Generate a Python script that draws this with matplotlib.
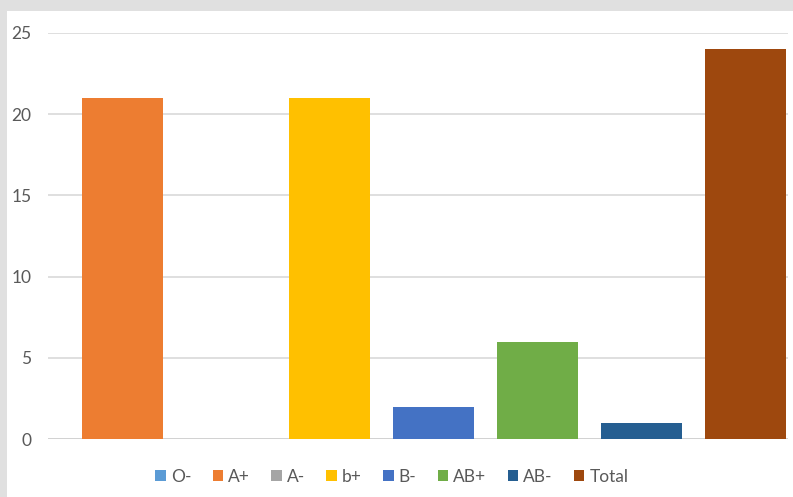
import matplotlib.pyplot as plt
from matplotlib.patches import Patch, Rectangle

groups = ['O-', 'A+', 'A-', 'b+', 'B-', 'AB+', 'AB-', 'Total']
counts = [0, 21, 0, 21, 2, 6, 1, 24]
colors = ['#5B9BD5', '#ED7D31', '#A5A5A5', '#FFC000', '#4472C4', '#70AD47', '#255E91', '#9E480E']
yticks = [0, 5, 10, 15, 20, 25]

plt.rcParams['font.family'] = ['Lato', 'DejaVu Sans']

W, H = 793, 497
fig = plt.figure(figsize=(W / 100, H / 100), dpi=100)
fig.patch.set_facecolor('#e0e0e0')
# white chart panel, cut off at right and bottom like the screenshot
fig.add_artist(Rectangle((7 / W, 0), 1, 1 - 11 / H, transform=fig.transFigure,
                         facecolor='white', edgecolor='none', zorder=0))

ax = fig.add_axes([48 / W, 1 - 439 / H, (788 - 48) / W, (439 - 33) / H])
ax.set_facecolor('none')

x = range(len(groups))
ax.bar(x, counts, width=0.78, color=colors, zorder=3)

ax.set_ylim(0, 25)
ax.set_xlim(0.287, 7.414)
ax.set_yticks(yticks)
ax.set_xticks([])
ax.grid(axis='y', color='#d9d9d9', linewidth=1.2, zorder=0)
for s in ax.spines.values():
    s.set_visible(False)
ax.axhline(0, color='#d0d0d0', linewidth=1.2, zorder=2)
ax.tick_params(axis='y', length=0, pad=12, labelsize=12.5, labelcolor='#595959')

handles = [Patch(facecolor=c, edgecolor='none') for c in colors]
fig.legend(handles, groups, loc='center', bbox_to_anchor=(392 / W, 1 - 477 / H),
           ncol=len(groups), frameon=False, fontsize=12.5, labelcolor='#595959',
           handlelength=0.6, handleheight=0.6, handletextpad=0.3,
           columnspacing=1.22, borderaxespad=0)

fig.savefig('out.png', dpi=100, facecolor=fig.get_facecolor())
